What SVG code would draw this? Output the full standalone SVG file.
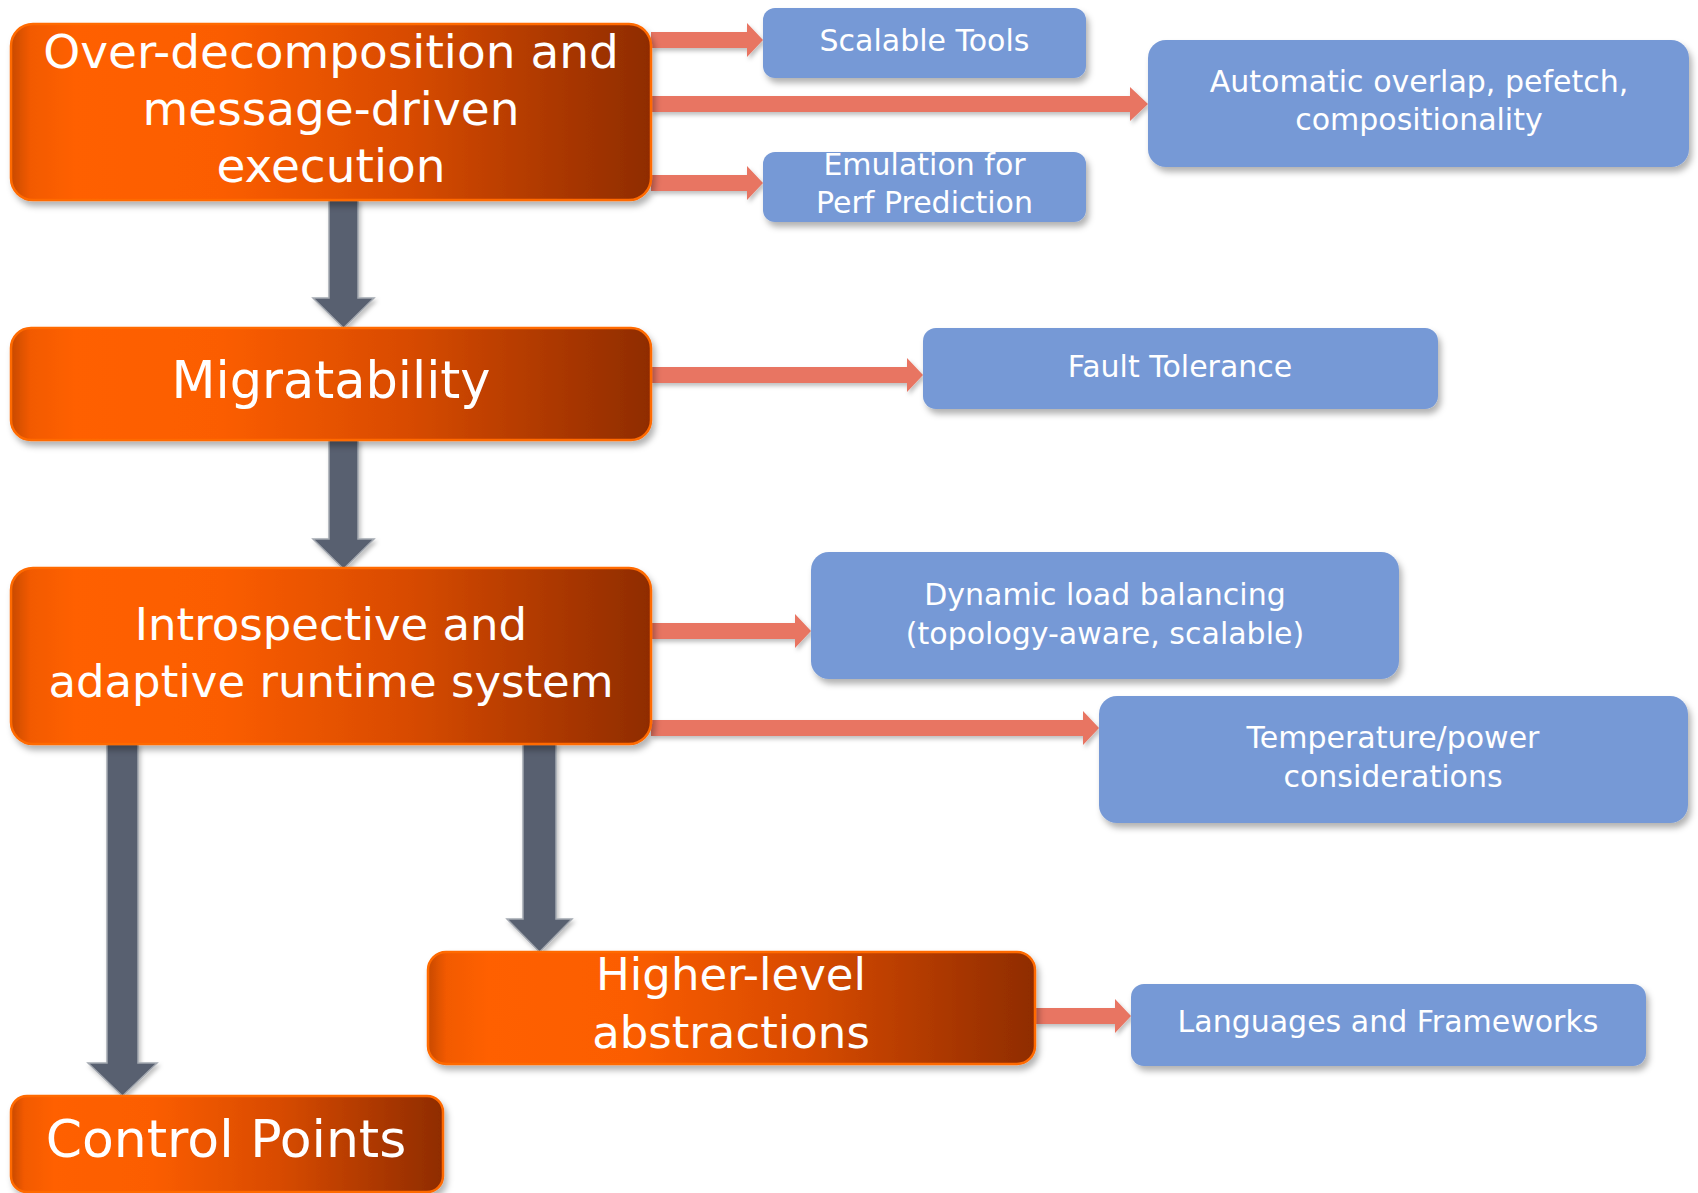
<svg xmlns="http://www.w3.org/2000/svg" width="1698" height="1193" viewBox="0 0 1698 1193">
<defs>
<linearGradient id="og" x1="0" y1="0" x2="1" y2="0">
<stop offset="0" stop-color="#c84a00"/>
<stop offset="0.03" stop-color="#f25a00"/>
<stop offset="0.1" stop-color="#ff6000"/>
<stop offset="0.33" stop-color="#fb5d00"/>
<stop offset="0.62" stop-color="#d84b00"/>
<stop offset="0.86" stop-color="#aa3700"/>
<stop offset="1" stop-color="#8f2c00"/>
</linearGradient>
<filter id="sh" x="-5%" y="-10%" width="115%" height="130%">
<feDropShadow dx="3" dy="5" stdDeviation="3" flood-color="#000" flood-opacity="0.3"/>
</filter>
<filter id="sh2" x="-10%" y="-10%" width="120%" height="130%">
<feDropShadow dx="2" dy="3" stdDeviation="2" flood-color="#000" flood-opacity="0.25"/>
</filter>
</defs>
<style>
.on{fill:url(#og);stroke:#ff6a00;stroke-width:2.5;filter:url(#sh)}
.bn{fill:#7699d6;filter:url(#sh)}
.ot{font-family:"DejaVu Sans","Liberation Sans",sans-serif;fill:#fff;text-anchor:middle}
.bt{font-family:"DejaVu Sans","Liberation Sans",sans-serif;fill:#fff;text-anchor:middle;font-size:30px}
.ra{fill:#e87462;filter:url(#sh2)}
.ga{fill:#596170;stroke:#a3a8b0;stroke-width:1.5;filter:url(#sh2)}
</style>
<rect width="1698" height="1193" fill="#fff"/>
<g id="connectors">
<path class="ra" d="M651,32H747V23L763,40L747,57V48H651Z"/>
<path class="ra" d="M651,96H1130V87L1148,104L1130,121V112H651Z"/>
<path class="ra" d="M651,175H747V166L763,183L747,200V191H651Z"/>
<path class="ra" d="M651,367H907V358L923,375L907,392V383H651Z"/>
<path class="ra" d="M651,623H795V614L811,631L795,648V639H651Z"/>
<path class="ra" d="M651,720H1083V711L1099,728L1083,745V736H651Z"/>
<path class="ra" d="M1035,1008H1115V999L1131,1016L1115,1033V1024H1035Z"/>
<path class="ga" d="M329,200H358V298H374L343.5,328L313,298H329Z"/>
<path class="ga" d="M329,440H358V539H374L343.5,569L313,539H329Z"/>
<path class="ga" d="M107,744H138V1063H157L122.5,1096L88,1063H107Z"/>
<path class="ga" d="M523,744H556V919H572L539.5,952L507,919H523Z"/>
</g>
<g id="n-overdecomp">
<rect class="on" x="11" y="24" width="640" height="176" rx="22"/>
<text class="ot" font-size="47" x="331" y="68">Over-decomposition and</text>
<text class="ot" font-size="47" x="331" y="125">message-driven</text>
<text class="ot" font-size="47" x="331" y="182">execution</text>
</g>
<g id="n-migratability">
<rect class="on" x="11" y="328" width="640" height="112" rx="20"/>
<text class="ot" font-size="51" x="331" y="398">Migratability</text>
</g>
<g id="n-introspective">
<rect class="on" x="11" y="568" width="640" height="176" rx="22"/>
<text class="ot" font-size="45" x="331" y="640">Introspective and</text>
<text class="ot" font-size="45" x="331" y="697">adaptive runtime system</text>
</g>
<g id="n-higher">
<rect class="on" x="428" y="952" width="607" height="112" rx="18"/>
<text class="ot" font-size="45" x="731" y="990">Higher-level</text>
<text class="ot" font-size="45" x="731" y="1048">abstractions</text>
</g>
<g id="n-control">
<rect class="on" x="11" y="1096" width="432" height="96" rx="16"/>
<text class="ot" font-size="52" x="226" y="1157">Control Points</text>
</g>
<g id="n-scalable">
<rect class="bn" x="763" y="8" width="323" height="70" rx="12"/>
<text class="bt" x="924.5" y="51">Scalable Tools</text>
</g>
<g id="n-automatic">
<rect class="bn" x="1148" y="40" width="541" height="127" rx="18"/>
<text class="bt" x="1419" y="92">Automatic overlap, pefetch,</text>
<text class="bt" x="1419" y="130">compositionality</text>
</g>
<g id="n-emulation">
<rect class="bn" x="763" y="152" width="323" height="70" rx="12"/>
<text class="bt" x="924.5" y="175">Emulation for</text>
<text class="bt" x="924.5" y="213">Perf Prediction</text>
</g>
<g id="n-fault">
<rect class="bn" x="923" y="328" width="515" height="81" rx="13"/>
<text class="bt" x="1180" y="377">Fault Tolerance</text>
</g>
<g id="n-dynamic">
<rect class="bn" x="811" y="552" width="588" height="127" rx="18"/>
<text class="bt" x="1105" y="605">Dynamic load balancing</text>
<text class="bt" x="1105" y="644">(topology-aware, scalable)</text>
</g>
<g id="n-temperature">
<rect class="bn" x="1099" y="696" width="589" height="127" rx="18"/>
<text class="bt" x="1393" y="748">Temperature/power</text>
<text class="bt" x="1393" y="787">considerations</text>
</g>
<g id="n-languages">
<rect class="bn" x="1131" y="984" width="515" height="82" rx="13"/>
<text class="bt" x="1388" y="1032">Languages and Frameworks</text>
</g>
</svg>
